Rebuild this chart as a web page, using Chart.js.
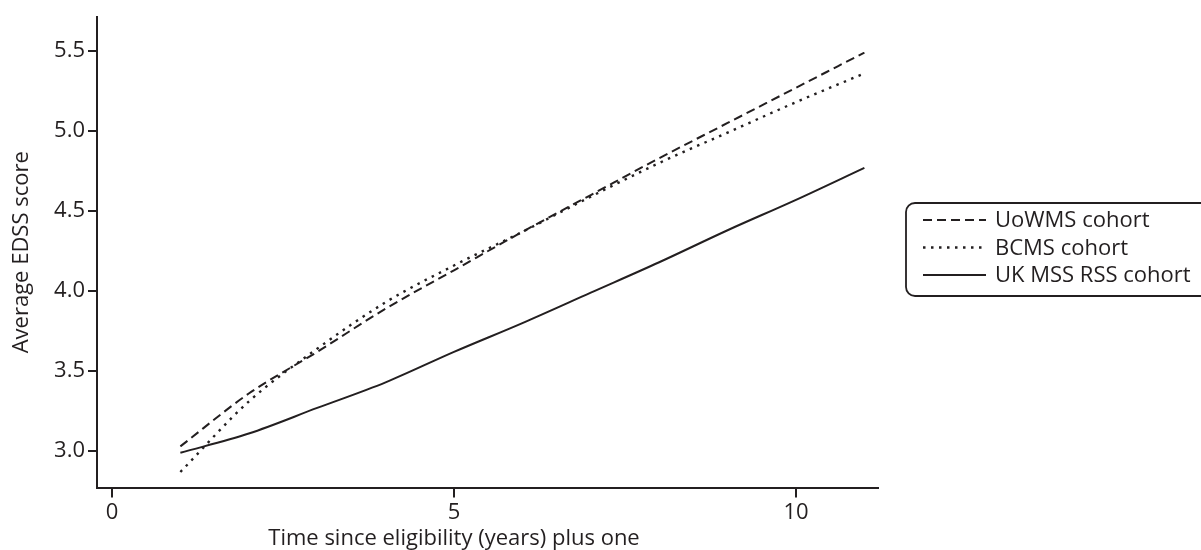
<!DOCTYPE html>
<html>
<head>
<meta charset="utf-8">
<script src="https://cdn.jsdelivr.net/npm/chart.js@4.4.1/dist/chart.umd.min.js"></script>
<style>
  html, body { margin: 0; padding: 0; background: #ffffff; }
  #wrap { width: 1201px; height: 550px; position: relative; }
</style>
</head>
<body>
<div id="wrap"><canvas id="c" width="1201" height="550"></canvas></div>
<script>
// ---- data ----
const xValues   = [1, 2, 3, 4, 5, 6, 7, 8, 9, 10, 11];
const uowmsVals = [3.03, 3.36, 3.62, 3.89, 4.13, 4.37, 4.60, 4.83, 5.05, 5.27, 5.49];
const bcmsVals  = [2.87, 3.31, 3.64, 3.93, 4.16, 4.37, 4.59, 4.80, 4.99, 5.18, 5.36];
const ukmssVals = [2.99, 3.11, 3.27, 3.43, 3.62, 3.80, 3.99, 4.18, 4.38, 4.57, 4.77];
const seriesLabels = ['UoWMS cohort', 'BCMS cohort', 'UK MSS RSS cohort'];
const xTicks = [0, 5, 10];
const yTicks = [3.0, 3.5, 4.0, 4.5, 5.0, 5.5];
const xTitle = 'Time since eligibility (years) plus one';
const yTitle = 'Average EDSS score';

const INK = '#231f20';
const FONT = '"Open Sans", "Noto Sans", sans-serif';
const FS = 22;

function pts(vals) { return xValues.map((x, i) => ({ x: x, y: vals[i] })); }

const dashStyles = [[9, 5], [2.5, 5.5], []];
const widths = [2, 2.4, 2];
const seriesVals = [uowmsVals, bcmsVals, ukmssVals];

const datasets = seriesLabels.map((lab, i) => ({
  label: lab,
  data: pts(seriesVals[i]),
  borderColor: INK,
  borderWidth: widths[i],
  borderDash: dashStyles[i],
  borderCapStyle: 'butt',
  pointRadius: 0,
  fill: false,
  cubicInterpolationMode: 'monotone'
}));

const customLegend = {
  id: 'customLegend',
  afterDraw(chart) {
    const ctx = chart.ctx;
    ctx.save();
    // x-axis title (centred under tick 5 like the reference)
    ctx.fillStyle = INK;
    ctx.font = FS + 'px ' + FONT;
    ctx.textAlign = 'center';
    ctx.textBaseline = 'middle';
    ctx.fillText(xTitle, 454, 539);

    // legend box
    const bx = 906, by = 203, bw = 320, bh = 93, r = 9;
    ctx.strokeStyle = INK;
    ctx.lineWidth = 1.8;
    ctx.setLineDash([]);
    ctx.beginPath();
    ctx.moveTo(bx + r, by);
    ctx.lineTo(bx + bw - r, by);
    ctx.arcTo(bx + bw, by, bx + bw, by + r, r);
    ctx.lineTo(bx + bw, by + bh - r);
    ctx.arcTo(bx + bw, by + bh, bx + bw - r, by + bh, r);
    ctx.lineTo(bx + r, by + bh);
    ctx.arcTo(bx, by + bh, bx, by + bh - r, r);
    ctx.lineTo(bx, by + r);
    ctx.arcTo(bx, by, bx + r, by, r);
    ctx.closePath();
    ctx.stroke();

    chart.data.datasets.forEach((ds, i) => {
      const y = 220 + i * 27.5;
      ctx.strokeStyle = ds.borderColor;
      ctx.lineWidth = ds.borderWidth;
      ctx.lineCap = 'butt';
      ctx.setLineDash(ds.borderDash || []);
      ctx.beginPath();
      ctx.moveTo(923, y);
      ctx.lineTo(986, y);
      ctx.stroke();
      ctx.setLineDash([]);
      ctx.fillStyle = INK;
      ctx.textAlign = 'left';
      ctx.textBaseline = 'middle';
      ctx.fillText(ds.label, 995, y + 1);
    });
    ctx.restore();
  }
};

new Chart(document.getElementById('c'), {
  type: 'line',
  data: { datasets: datasets },
  options: {
    responsive: false,
    animation: false,
    layout: { padding: { left: 0, right: 323, top: 17, bottom: 0 } },
    plugins: { legend: { display: false }, tooltip: { enabled: false } },
    scales: {
      x: {
        type: 'linear',
        min: -0.219,
        max: 11.199,
        afterBuildTicks: s => { s.ticks = xTicks.map(v => ({ value: v })); },
        afterFit: s => { s.height = 62.5; },
        grid: { drawOnChartArea: false, drawTicks: true, tickLength: 10, color: INK, lineWidth: 2 },
        border: { display: true, color: INK, width: 2 },
        ticks: { color: INK, font: { family: FONT, size: FS }, padding: 2, maxRotation: 0, callback: v => String(v) }
      },
      y: {
        type: 'linear',
        min: 2.773,
        max: 5.712,
        afterBuildTicks: s => { s.ticks = yTicks.map(v => ({ value: v })); },
        afterFit: s => { s.width = 97; },
        grid: { drawOnChartArea: false, drawTicks: true, tickLength: 9, color: INK, lineWidth: 2 },
        border: { display: true, color: INK, width: 2 },
        ticks: { color: INK, font: { family: FONT, size: FS }, padding: 3, callback: v => Number(v).toFixed(1) },
        title: { display: true, text: yTitle, color: INK, font: { family: FONT, size: FS }, padding: { top: 9, bottom: 0 } }
      }
    }
  },
  plugins: [customLegend]
});
</script>
</body>
</html>
